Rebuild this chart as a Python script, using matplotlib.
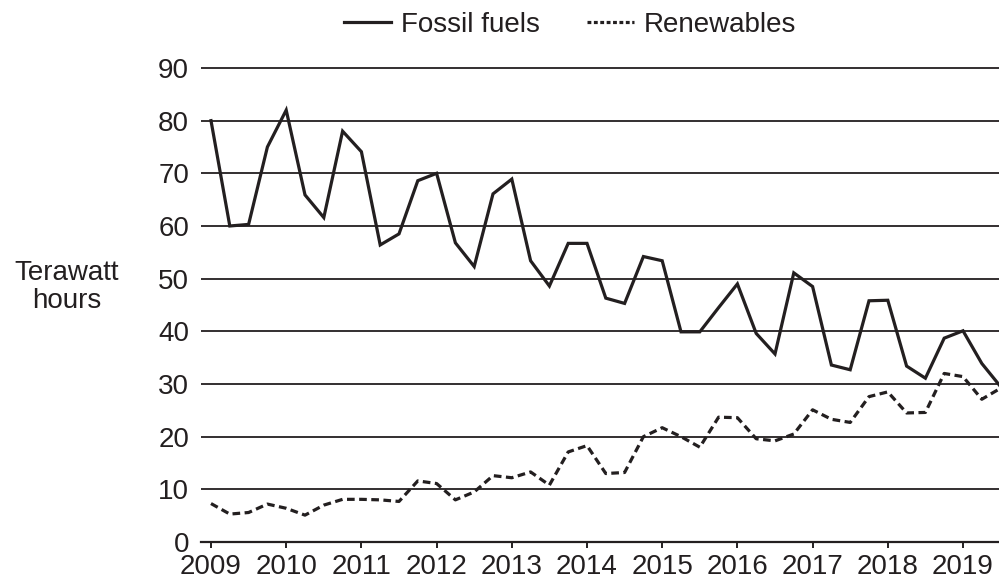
import matplotlib
matplotlib.use("Agg")
import matplotlib.pyplot as plt
import numpy as np

# Quarterly data, 2009 Q1 .. 2019 Q3
years = list(range(2009, 2020))
fossil = [80, 60, 60.3, 75, 82, 65.9, 61.6, 78, 74.1, 56.4, 58.5, 68.6, 70,
          56.8, 52.3, 66.1, 68.9, 53.4, 48.6, 56.7, 56.7, 46.3, 45.3, 54.2, 53.4,
          39.9, 39.9, 44.5, 49, 39.6, 35.7, 51.1, 48.5, 33.6, 32.7, 45.8, 45.9,
          33.4, 31.1, 38.7, 40.1, 33.9, 29.5]
renewables = [7.3, 5.3, 5.6, 7.2, 6.4, 5.1, 7.0, 8.1, 8.1, 8.0, 7.7, 11.6, 11.1,
              8.0, 9.5, 12.6, 12.2, 13.3, 10.8, 17.1, 18.3, 13.0, 13.2, 20.0, 21.7,
              20.0, 18.0, 23.7, 23.6, 19.6, 19.2, 20.5, 25.1, 23.3, 22.7, 27.6, 28.5,
              24.5, 24.6, 32.0, 31.4, 27.1, 29.2]
yticks = [0, 10, 20, 30, 40, 50, 60, 70, 80, 90]
series_labels = ["Fossil fuels", "Renewables"]
ylabel = "Terawatt\nhours"

x = 2009 + np.arange(len(fossil)) / 4.0

ink = "#231f20"
plt.rcParams['font.family'] = ['Liberation Sans', 'DejaVu Sans']
fs = 20

fig = plt.figure(figsize=(9.99, 5.83), dpi=100)
ax = fig.add_axes([201/999, 1 - 542/583, 1 - 201/999, (542 - 66.4)/583])

ax.set_xlim(2009 - 10/75.2, 2009 + (999 - 211)/75.2)
ax.set_ylim(0, 90.3)

for v in yticks[1:]:
    ax.axhline(v, color=ink, lw=1.3, zorder=1)

l1, = ax.plot(x, fossil, color=ink, lw=2.3, solid_joinstyle='miter', zorder=3)
l2, = ax.plot(x, renewables, color=ink, lw=2.3, linestyle=(0, (2.4, 1.4)), zorder=3)

for s in ['top', 'right', 'left']:
    ax.spines[s].set_visible(False)
ax.spines['bottom'].set_color(ink)
ax.spines['bottom'].set_linewidth(1.6)

ax.set_xticks(years)
ax.set_xticklabels([str(y) for y in years])
ax.set_yticks(yticks)
ax.set_yticklabels([str(v) for v in yticks])
ax.tick_params(axis='x', direction='out', length=4.5, width=1.4, color=ink,
               labelsize=fs, labelcolor=ink, pad=4.5)
ax.tick_params(axis='y', length=0, labelsize=fs, labelcolor=ink, pad=8.5)

fig.text(67/999, 1 - 287/583, ylabel, ha='center', va='center', fontsize=fs,
         color=ink, linespacing=1.15)

leg = fig.legend([l1, l2], series_labels, loc='center', bbox_to_anchor=(570/999, 1 - 25/583),
                 ncol=2, frameon=False, fontsize=fs, handlelength=1.7, handletextpad=0.35,
                 columnspacing=1.7, borderaxespad=0, labelcolor=ink)
leg.get_lines()[1].set_linestyle((0, (1.2, 0.8)))

fig.savefig("out.png", dpi=100)
